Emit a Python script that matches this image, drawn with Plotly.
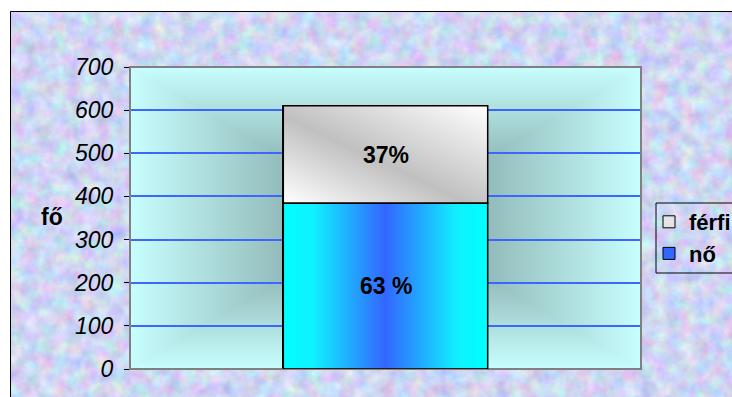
import base64
import plotly.graph_objects as go

# ---- data ----
categories = ["összesen"]
series_names = ["nő", "férfi"]
no_values = [384]
ferfi_values = [226]
bar_labels = ["63 %", "37%"]
y_ticks = [0, 100, 200, 300, 400, 500, 600, 700]
y_title = "fő"

FONT = "Arial, Liberation Sans, sans-serif"
W, H = 732, 397
L, R, T, B = 130, 91, 67, 28
PW, PH = W - L - R, H - T - B


def svg_uri(s):
    return "data:image/svg+xml;base64," + base64.b64encode(s.encode("utf-8")).decode()


def px_x(p):
    return (p - L) / PW


def px_y(p):
    return (H - B - p) / PH


# textured outer background with black frame (left/top visible)
tex_w, tex_h = 730, 389
texture = f"""<svg xmlns='http://www.w3.org/2000/svg' width='{tex_w}' height='{tex_h}' viewBox='0 0 {tex_w} {tex_h}'>
<filter id='n' x='0' y='0' width='100%' height='100%' color-interpolation-filters='sRGB'>
<feTurbulence type='fractalNoise' baseFrequency='0.07' numOctaves='3' seed='7'/>
<feColorMatrix type='matrix' values='0.36 0 0 0 0.63  0 0.34 0 0 0.67  0 0 0.2 0 0.85  0 0 0 0 1'/>
</filter>
<rect width='{tex_w}' height='{tex_h}' filter='url(#n)'/>
<path d='M0.5 {tex_h} V0.5 H{tex_w}' fill='none' stroke='black' stroke-width='1'/>
</svg>"""

edge, center = "#c8fefe", "#6f908e"
plotbg = f"""<svg xmlns='http://www.w3.org/2000/svg' width='{PW}' height='{PH}' viewBox='0 0 100 100' preserveAspectRatio='none'>
<defs>
<linearGradient id='t' gradientUnits='userSpaceOnUse' x1='0' y1='0' x2='0' y2='50'><stop offset='0' stop-color='{edge}'/><stop offset='1' stop-color='{center}'/></linearGradient>
<linearGradient id='b' gradientUnits='userSpaceOnUse' x1='0' y1='100' x2='0' y2='50'><stop offset='0' stop-color='{edge}'/><stop offset='1' stop-color='{center}'/></linearGradient>
<linearGradient id='l' gradientUnits='userSpaceOnUse' x1='0' y1='0' x2='50' y2='0'><stop offset='0' stop-color='{edge}'/><stop offset='1' stop-color='{center}'/></linearGradient>
<linearGradient id='r' gradientUnits='userSpaceOnUse' x1='100' y1='0' x2='50' y2='0'><stop offset='0' stop-color='{edge}'/><stop offset='1' stop-color='{center}'/></linearGradient>
</defs>
<polygon points='0,0 100,0 50,50' fill='url(#t)' stroke='url(#t)' stroke-width='0.4'/>
<polygon points='0,100 100,100 50,50' fill='url(#b)' stroke='url(#b)' stroke-width='0.4'/>
<polygon points='0,0 0,100 50,50' fill='url(#l)' stroke='url(#l)' stroke-width='0.4'/>
<polygon points='100,0 100,100 50,50' fill='url(#r)' stroke='url(#r)' stroke-width='0.4'/>
</svg>"""

no_grad = """<svg xmlns='http://www.w3.org/2000/svg' width='100' height='100' viewBox='0 0 100 100' preserveAspectRatio='none'>
<defs><linearGradient id='g' x1='0' y1='0' x2='1' y2='0'>
<stop offset='0' stop-color='#00ffff'/><stop offset='0.15' stop-color='#10f0ff'/><stop offset='0.5' stop-color='#3366ff'/><stop offset='0.85' stop-color='#10f0ff'/><stop offset='1' stop-color='#00ffff'/>
</linearGradient></defs><rect width='100' height='100' fill='url(#g)'/></svg>"""

ferfi_grad = """<svg xmlns='http://www.w3.org/2000/svg' width='100' height='100' viewBox='0 0 100 100' preserveAspectRatio='none'>
<defs><linearGradient id='g' x1='0' y1='1' x2='1' y2='0'>
<stop offset='0' stop-color='#ffffff'/><stop offset='0.45' stop-color='#c0c0c0'/><stop offset='1' stop-color='#ffffff'/>
</linearGradient></defs><rect width='100' height='100' fill='url(#g)'/></svg>"""

x_idx = list(range(len(categories)))
bar_w = 0.4

fig = go.Figure()
fig.add_trace(go.Bar(x=x_idx, y=no_values, name=series_names[0], width=bar_w,
                     hovertext=categories, legendrank=2,
                     marker=dict(color="#3366ff", line=dict(color="black", width=1))))
fig.add_trace(go.Bar(x=x_idx, y=ferfi_values, name=series_names[1], width=bar_w,
                     hovertext=categories, legendrank=1,
                     marker=dict(color="#e4e4e4", line=dict(color="black", width=1))))

images = [
    dict(source=svg_uri(texture), xref="paper", yref="paper",
         x=px_x(10), y=px_y(11), sizex=tex_w / PW, sizey=tex_h / PH,
         xanchor="left", yanchor="top", sizing="stretch", layer="below"),
    dict(source=svg_uri(plotbg), xref="paper", yref="paper",
         x=0, y=1, sizex=1, sizey=1, xanchor="left", yanchor="top",
         sizing="stretch", layer="below"),
]

shapes = [
    dict(type="rect", xref="paper", yref="paper", x0=0, x1=1, y0=0, y1=1,
         line=dict(color="#808080", width=2), layer="above"),
    # legend frame
    dict(type="rect", xref="paper", yref="paper", x0=px_x(656), x1=px_x(745),
         y0=px_y(273), y1=px_y(203), line=dict(color="black", width=1), layer="above"),
]
annotations = []

for i, xi in enumerate(x_idx):
    segs = [(0, no_values[i], no_grad, bar_labels[0]),
            (no_values[i], no_values[i] + ferfi_values[i], ferfi_grad, bar_labels[1])]
    for y0, y1, grad, lab in segs:
        images.append(dict(source=svg_uri(grad), xref="x", yref="y",
                           x=xi - bar_w / 2, y=y1, sizex=bar_w, sizey=y1 - y0,
                           xanchor="left", yanchor="top", sizing="stretch", layer="above"))
        shapes.append(dict(type="rect", xref="x", yref="y", x0=xi - bar_w / 2, x1=xi + bar_w / 2,
                           y0=y0, y1=y1, line=dict(color="black", width=1.5), layer="above"))
        annotations.append(dict(x=xi, y=(y0 + y1) / 2, xref="x", yref="y", text=lab,
                                showarrow=False, xanchor="center", yanchor="middle",
                                font=dict(family=FONT, size=23, color="black", weight="bold")))

annotations.append(dict(x=px_x(52), y=px_y(217), xref="paper", yref="paper",
                        text=y_title, showarrow=False, xanchor="center", yanchor="middle",
                        font=dict(family=FONT, size=23, color="black", weight="bold")))

fig.update_layout(
    width=W, height=H, autosize=False,
    margin=dict(l=L, r=R, t=T, b=B, pad=0, autoexpand=False),
    paper_bgcolor="white", plot_bgcolor="rgba(0,0,0,0)",
    barmode="stack", bargap=0,
    showlegend=True,
    legend=dict(x=px_x(649), y=px_y(238), xanchor="left", yanchor="middle",
                traceorder="normal", tracegroupgap=8, bgcolor="rgba(0,0,0,0)",
                borderwidth=0,
                font=dict(family=FONT, size=22, color="black", weight="bold"),
                itemwidth=30),
    xaxis=dict(range=[-0.5, 0.5], showticklabels=False, showgrid=False, zeroline=False,
               showline=False, ticks="", fixedrange=True),
    yaxis=dict(range=[0, 700], tickvals=y_ticks, ticks="outside", ticklen=5, tickcolor="black",
               showline=True, linecolor="black", linewidth=1, ticklabelstandoff=6,
               showgrid=True, gridcolor="#3d66ff", gridwidth=2, zeroline=False,
               tickfont=dict(family=FONT, size=23, color="black", style="italic")),
    images=images, shapes=shapes, annotations=annotations,
)

fig.write_html("out.html")
